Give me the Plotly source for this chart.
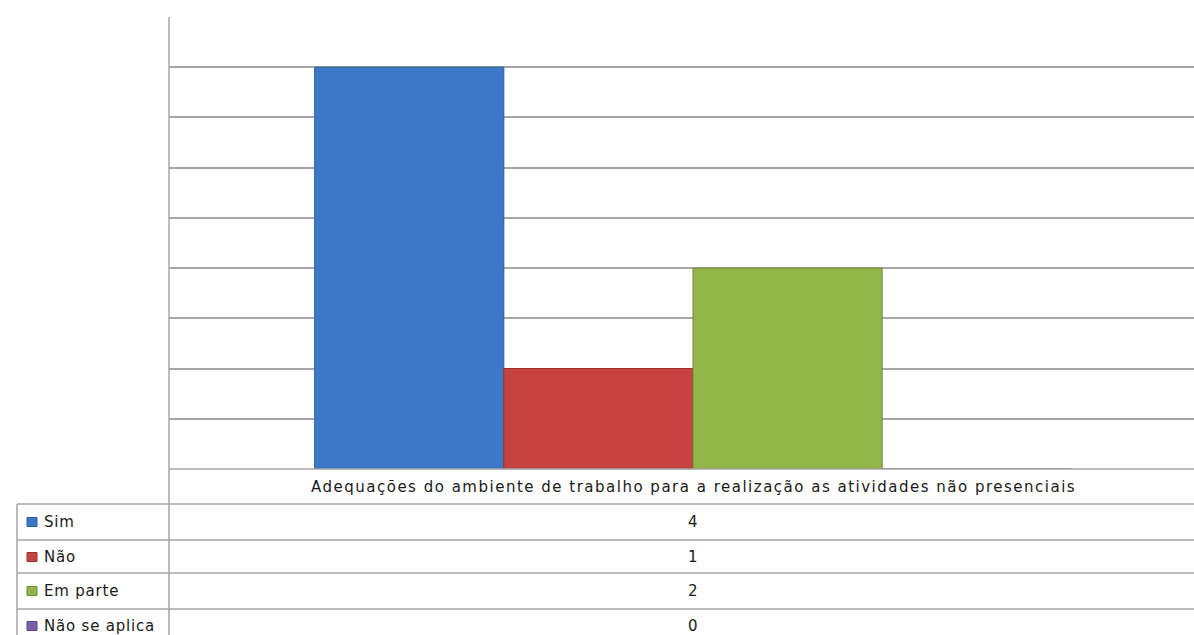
import plotly.graph_objects as go

category = ["Adequações do ambiente de trabalho para a realização as atividades não presenciais"]
series_names = ["Sim", "Não", "Em parte", "Não se aplica"]
series_values = [4, 1, 2, 0]
series_colors = ["#3c78c7", "#c64241", "#92b64a", "#7a5ea6"]
line_colors = ["#2f5f9c", "#9a2f2e", "#6f8c35", "#5a4580"]

W, H = 1194, 635
L, T, B = 169, 17, 469
PW, PH = W - L, B - T


def px(x):
    return (x - L) / PW


def py(y):
    return (B - y) / PH


fig = go.Figure()
for name, val, col, lc in zip(series_names, series_values, series_colors, line_colors):
    fig.add_trace(go.Bar(x=category, y=[val], name=name,
                         marker=dict(color=col, line=dict(color=lc, width=1)),
                         showlegend=False, hoverinfo="skip"))

grid = "#a6a6a6"
shapes = []
shapes.append(dict(type="line", xref="paper", yref="paper", x0=0, x1=0, y0=1, y1=py(640),
                   line=dict(color=grid, width=1.5)))
for y in [504, 540, 573, 609]:
    shapes.append(dict(type="line", xref="paper", yref="paper", x0=px(17), x1=1, y0=py(y), y1=py(y),
                       line=dict(color=grid, width=1.5)))
shapes.append(dict(type="line", xref="paper", yref="paper", x0=0, x1=1, y0=0, y1=0,
                   line=dict(color=grid, width=1.5)))
shapes.append(dict(type="line", xref="paper", yref="paper", x0=px(17), x1=px(17), y0=py(504), y1=py(640),
                   line=dict(color=grid, width=1.5)))

FONT = dict(family="DejaVu Sans", size=15, color="#1a1a1a")


def spaced(s, ls):
    return f'<span style="letter-spacing:{ls}px">{s}</span>'


annotations = []
center_x = px(693)
annotations.append(dict(x=center_x, y=py(487), xref="paper", yref="paper", text=spaced(category[0], 1.5),
                        showarrow=False, font=FONT, xanchor="center", yanchor="middle"))
row_centers = [522, 557, 591, 626]
for name, val, col, lc, yc in zip(series_names, series_values, series_colors, line_colors, row_centers):
    annotations.append(dict(x=center_x, y=py(yc), xref="paper", yref="paper", text=str(val), showarrow=False,
                            font=FONT, xanchor="center", yanchor="middle"))
    annotations.append(dict(x=px(42), y=py(yc), xref="paper", yref="paper", text=spaced(name, 0.8),
                            showarrow=False, font=FONT, xanchor="left", yanchor="middle"))
    shapes.append(dict(type="rect", xref="paper", yref="paper", x0=px(27), x1=px(37),
                       y0=py(yc - 4.5), y1=py(yc + 4.5), fillcolor=col, line=dict(color=lc, width=1)))

fig.update_layout(
    width=W, height=H,
    margin=dict(l=L, r=0, t=T, b=H - B, pad=0),
    paper_bgcolor="white", plot_bgcolor="white",
    barmode="group", bargap=0.278, bargroupgap=0,
    xaxis=dict(range=[-0.5, -0.5 + PW / 1048], showticklabels=False, showgrid=False, zeroline=False,
               showline=False, ticks=""),
    yaxis=dict(range=[0, 4.5], dtick=0.5, showticklabels=False, showgrid=True, gridcolor=grid,
               gridwidth=1.5, zeroline=False, showline=False, ticks=""),
    shapes=shapes, annotations=annotations,
)

fig.write_html("out.html", config={"displayModeBar": False},
               post_script="document.body.style.margin='0px';document.body.style.overflow='hidden';")
